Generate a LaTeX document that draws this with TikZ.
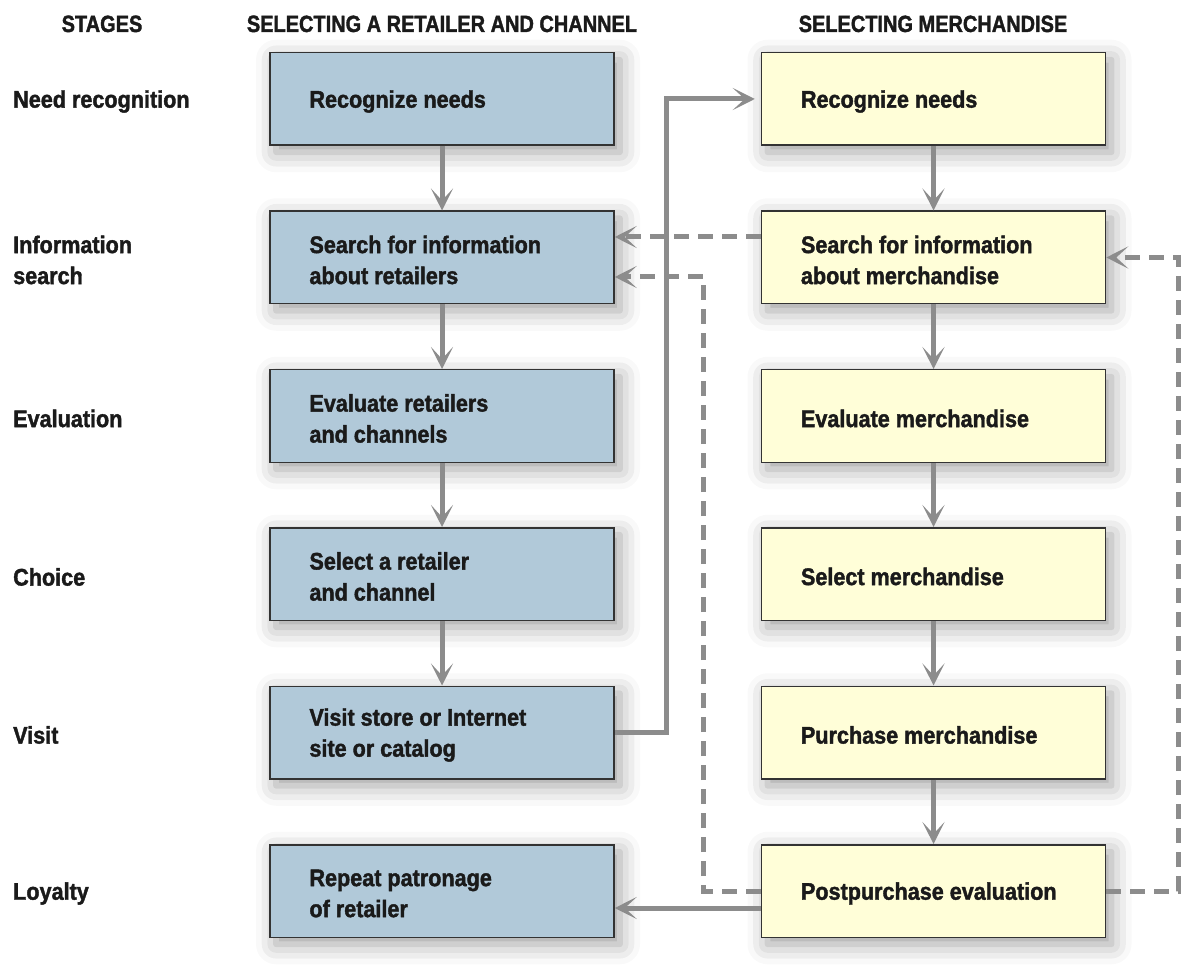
\documentclass[tikz,border=0pt]{standalone}
\usepackage{fontspec}
\newfontfamily\labfont[FakeStretch=0.9,FakeBold=1.6]{Liberation Sans}
\newfontfamily\headfont[FakeStretch=0.85,FakeBold=1.6]{Liberation Sans}
\usetikzlibrary{arrows.meta,shadows.blur,calc}
\definecolor{boxblue}{HTML}{B1C9D9}
\definecolor{boxyellow}{HTML}{FFFED8}
\definecolor{linegray}{HTML}{8C8C8C}
\definecolor{textdark}{HTML}{1A1A1A}
\tikzset{
  stagebox/.style={draw=black!80, line width=1.5pt, minimum width=344pt, minimum height=92.5pt, inner sep=0pt,
    blur shadow={shadow xshift=6pt, shadow yshift=-7pt, shadow blur radius=20pt, shadow opacity=38}},
  leftbox/.style={stagebox, fill=boxblue},
  rightbox/.style={stagebox, fill=boxyellow},
  boxtext/.style={anchor=west, align=left, inner sep=0pt, text=textdark, font=\labfont\bfseries\fontsize{24}{31}\selectfont},
  stagetext/.style={boxtext},
  headtext/.style={anchor=base, inner sep=0pt, text=textdark, font=\headfont\bfseries\fontsize{23.5}{28}\selectfont},
  flow/.style={draw=linegray, line width=5pt, -{Stealth[length=22pt,width=22pt,inset=12pt]}},
  dashflow/.style={flow, dash pattern=on 15pt off 9pt},
}
\begin{document}
\begin{tikzpicture}[x=1pt,y=-1pt]
\useasboundingbox (0,0) rectangle (1187,968);
% headers
\node[headtext] (hS) at (102,32) {STAGES};
\node[headtext] (hL) at (442,32) {SELECTING A RETAILER AND CHANNEL};
\node[headtext] (hR) at (933,32) {SELECTING MERCHANDISE};
% stage labels
\node[stagetext] (s1) at (13,101.5) {Need recognition};
\node[stagetext] (s2) at (13,260) {Information\\search};
\node[stagetext] (s3) at (13,418.5) {Evaluation};
\node[stagetext] (s4) at (13,577) {Choice};
\node[stagetext] (s5) at (13,735) {Visit};
\node[stagetext] (s6) at (13,893.5) {Loyalty};
% boxes
\foreach \i/\y in {1/99,2/257.5,3/416,4/574,5/732.5,6/891}{
  \node[leftbox] (L\i) at (442,\y) {};
}
\foreach \i/\y in {1/99,2/257.5,3/416,4/574,5/732.5,6/891}{
  \node[rightbox] (R\i) at (933.5,\y) {};
}
% box texts
\node[boxtext] (tL1) at ([xshift=40pt,yshift=-2.5pt]L1.west) {Recognize needs};
\node[boxtext] (tL2) at ([xshift=40pt,yshift=-2.5pt]L2.west) {Search for information\\about retailers};
\node[boxtext] (tL3) at ([xshift=40pt,yshift=-2.5pt]L3.west) {Evaluate retailers\\and channels};
\node[boxtext] (tL4) at ([xshift=40pt,yshift=-2.5pt]L4.west) {Select a retailer\\and channel};
\node[boxtext] (tL5) at ([xshift=40pt,yshift=-2.5pt]L5.west) {Visit store or Internet\\site or catalog};
\node[boxtext] (tL6) at ([xshift=40pt,yshift=-2.5pt]L6.west) {Repeat patronage\\of retailer};
\node[boxtext] (tR1) at ([xshift=40pt,yshift=-2.5pt]R1.west) {Recognize needs};
\node[boxtext] (tR2) at ([xshift=40pt,yshift=-2.5pt]R2.west) {Search for information\\about merchandise};
\node[boxtext] (tR3) at ([xshift=40pt,yshift=-2.5pt]R3.west) {Evaluate merchandise};
\node[boxtext] (tR4) at ([xshift=40pt,yshift=-2.5pt]R4.west) {Select merchandise};
\node[boxtext] (tR5) at ([xshift=40pt,yshift=-2.5pt]R5.west) {Purchase merchandise};
\node[boxtext] (tR6) at ([xshift=40pt,yshift=-2.5pt]R6.west) {Postpurchase evaluation};
% vertical flows
\foreach \a/\b in {1/2,2/3,3/4,4/5}{
  \draw[flow] (L\a.south) -- (L\b.north);
}
\foreach \a/\b in {1/2,2/3,3/4,4/5,5/6}{
  \draw[flow] (R\a.south) -- (R\b.north);
}
% visit -> recognize needs (merchandise)
\draw[flow] (L5.east) -- ++(52,0) |- ([xshift=-6pt]R1.west);
% dashed feedback from search merchandise to search retailers
\draw[dashflow] ([yshift=20.5pt]R2.west) -- ([yshift=20.5pt]L2.east);
% postpurchase -> search retailers (dashed)
\draw[dashflow] (R6.west) -- ++(-57,0) |- ([yshift=-19.5pt]L2.east);
% postpurchase -> repeat patronage
\draw[flow] ([yshift=-17pt]R6.west) -- ([yshift=-17pt]L6.east);
% postpurchase -> search merchandise (dashed)
\draw[dashflow] (R6.east) -- ++(72,0) |- (R2.east);
\end{tikzpicture}
\end{document}
